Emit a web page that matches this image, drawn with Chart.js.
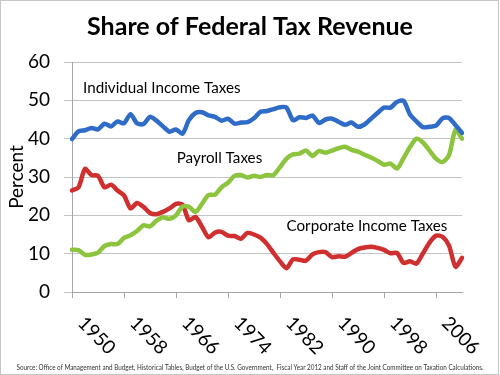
<!DOCTYPE html>
<html>
<head>
<meta charset="utf-8">
<script src="https://cdn.jsdelivr.net/npm/chart.js@4"></script>
<style>
  html, body { margin: 0; padding: 0; background: #fff; }
  canvas { display: block; }
</style>
</head>
<body>
<canvas id="chart" width="500" height="375"></canvas>
<script>
// Share of federal receipts by source, fiscal years 1950-2010 (percent)
const years = [];
for (let y = 1950; y <= 2010; y++) years.push(String(y));

const individualIncome = [
    39.9, 41.9, 42.2, 42.8, 42.4, 43.9, 43.2, 44.5, 44.0, 46.4,
    44.0, 43.8, 45.7, 44.7, 43.2, 41.8, 42.4, 41.3, 44.9, 46.7,
    46.9, 46.1, 45.7, 44.7, 45.2, 43.9, 44.2, 44.3, 45.3, 47.0,
    47.2, 47.7, 48.2, 48.1, 44.8, 45.6, 45.4, 46.0, 44.1, 45.0,
    45.2, 44.4, 43.6, 44.2, 43.1, 43.7, 45.2, 46.7, 48.1, 48.1,
    49.6, 49.9, 46.3, 44.5, 43.0, 43.1, 43.4, 45.3, 45.4, 43.5,
    41.5
];
const payroll = [
    11.0, 10.9, 9.7, 9.8, 10.3, 12.0, 12.5, 12.5, 14.1, 14.8,
    15.9, 17.4, 17.1, 18.6, 19.5, 19.1, 20.0, 22.3, 22.2, 20.9,
    23.0, 25.3, 25.4, 27.3, 28.5, 30.3, 30.5, 29.9, 30.3, 30.0,
    30.5, 30.5, 32.6, 34.8, 35.9, 36.1, 36.9, 35.5, 36.8, 36.3,
    36.9, 37.5, 37.9, 37.1, 36.6, 35.8, 35.1, 34.2, 33.2, 33.5,
    32.2, 34.9, 37.8, 40.0, 39.0, 36.9, 34.8, 33.9, 35.7, 42.3,
    40.0
];
const corporateIncome = [
    26.5, 27.3, 32.1, 30.5, 30.3, 27.3, 28.0, 26.5, 25.2, 21.8,
    23.2, 22.2, 20.6, 20.3, 20.9, 21.8, 23.0, 22.8, 18.7, 19.6,
    17.0, 14.3, 15.5, 15.7, 14.7, 14.6, 13.9, 15.4, 15.0, 14.2,
    12.5, 10.2, 8.0, 6.2, 8.5, 8.4, 8.2, 9.8, 10.4, 10.4,
    9.1, 9.3, 9.2, 10.2, 11.2, 11.6, 11.8, 11.5, 11.0, 10.1,
    10.2, 7.6, 8.0, 7.4, 10.1, 12.9, 14.7, 14.4, 12.1, 6.6,
    8.9
];
const yTicks = [0, 10, 20, 30, 40, 50, 60];
const labelEvery = 8;

// in-chart series names, anchored in data units (category index, percent)
const seriesNotes = [
    { text: 'Individual Income Taxes', at: 1.7, value: 53.1 },
    { text: 'Payroll Taxes', at: 16.1, value: 35.0 },
    { text: 'Corporate Income Taxes', at: 33.0, value: 17.2 }
];
const chartTitle = 'Share of Federal Tax Revenue';
const sourceNote = 'Source: Office of Management and Budget, Historical Tables, Budget of the U.S. Government,  Fiscal Year 2012 and Staff of the Joint Committee on Taxation Calculations.';

const FONT = 'Lato, "Open Sans", sans-serif';
const AXIS_GREY = '#a6a6a6';

const extrasPlugin = {
    id: 'extras',
    afterDraw(chart) {
        const ctx = chart.ctx;
        const xs = chart.scales.x;
        const ys = chart.scales.y;
        ctx.save();

        // title, centred on the whole picture
        ctx.fillStyle = '#000';
        ctx.font = 'bold 25px ' + FONT;
        ctx.textAlign = 'center';
        ctx.textBaseline = 'middle';
        ctx.fillText(chartTitle, chart.width / 2, 27);

        // rotated year labels, reading down to the right
        ctx.font = '19px ' + FONT;
        ctx.textAlign = 'left';
        years.forEach((yr, i) => {
            if (i % labelEvery !== 0) return;
            ctx.save();
            ctx.translate(xs.getPixelForValue(i) + 9, ys.bottom + 28);
            ctx.rotate(Math.PI / 4);
            ctx.fillText(yr, 0, 0);
            ctx.restore();
        });

        // series names
        ctx.font = '15.2px ' + FONT;
        seriesNotes.forEach(n => {
            ctx.fillText(n.text, xs.getPixelForValue(n.at), ys.getPixelForValue(n.value));
        });

        // source line
        ctx.font = '8px ' + FONT;
        ctx.fillStyle = '#333';
        ctx.textAlign = 'center';
        ctx.fillText(sourceNote, chart.width / 2, chart.height - 8, 467);

        // dotted frame
        ctx.strokeStyle = '#8c8c8c';
        ctx.lineWidth = 1;
        ctx.setLineDash([1, 1]);
        ctx.strokeRect(0.5, 0.5, chart.width - 2, chart.height - 1);
        ctx.restore();
    }
};

function line(label, data, color) {
    return {
        label,
        data,
        borderColor: color,
        backgroundColor: color,
        borderWidth: 4.5,
        pointRadius: 0,
        tension: 0.25,
        borderCapStyle: 'round',
        borderJoinStyle: 'round'
    };
}

new Chart(document.getElementById('chart').getContext('2d'), {
    type: 'line',
    data: {
        labels: years,
        datasets: [
            line('Individual Income Taxes', individualIncome, '#2f6cc8'),
            line('Payroll Taxes', payroll, '#8cc43e'),
            line('Corporate Income Taxes', corporateIncome, '#cf2f2f')
        ]
    },
    options: {
        responsive: false,
        animation: false,
        devicePixelRatio: 1,
        layout: { padding: { left: 0, right: 38, top: 62, bottom: 0 } },
        plugins: {
            legend: { display: false },
            tooltip: { enabled: false },
            title: { display: false }
        },
        scales: {
            x: {
                type: 'category',
                offset: false,
                afterFit: (s) => { s.height = 83; },
                ticks: { display: false },
                grid: {
                    drawOnChartArea: false,
                    drawTicks: true,
                    tickLength: 6,
                    color: (c) => (c.index % labelEvery === 0 ? AXIS_GREY : 'rgba(0,0,0,0)')
                },
                border: { display: true, color: AXIS_GREY }
            },
            y: {
                min: 0,
                max: 60,
                afterFit: (s) => { s.width = 72; },
                afterBuildTicks: (s) => { s.ticks = yTicks.map(v => ({ value: v })); },
                ticks: {
                    color: '#000',
                    padding: 14,
                    font: { family: FONT, size: 19 }
                },
                grid: { color: '#c4c4c4', tickLength: 8 },
                border: { display: true, color: AXIS_GREY },
                title: {
                    display: true,
                    text: 'Percent',
                    color: '#000',
                    font: { family: FONT, size: 19 },
                    padding: { top: 5, bottom: 0 }
                }
            }
        }
    },
    plugins: [extrasPlugin]
});
</script>
</body>
</html>
